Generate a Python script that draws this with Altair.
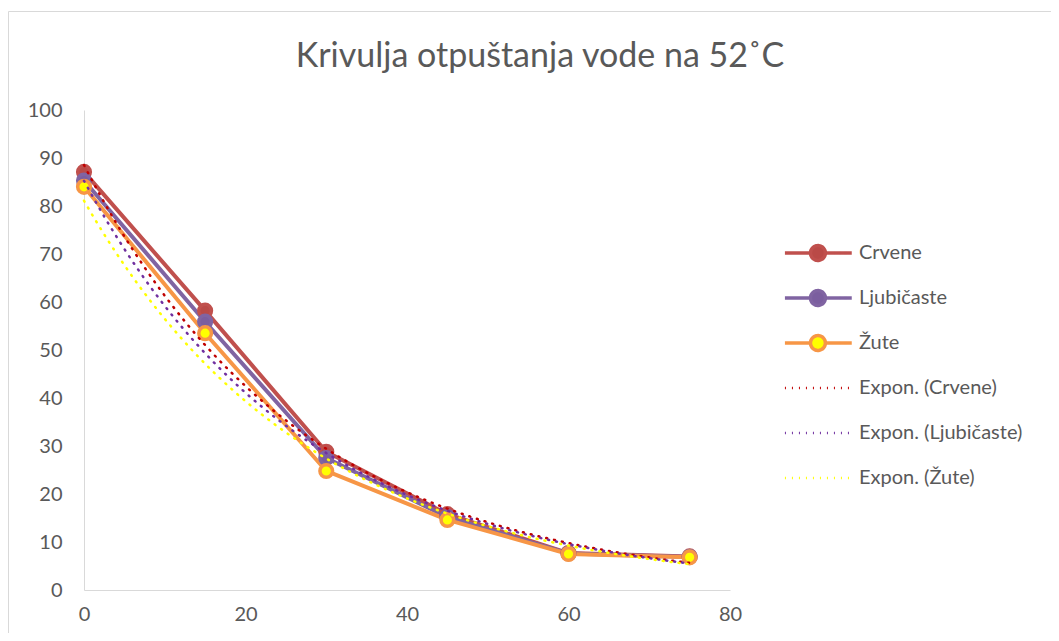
import altair as alt
import pandas as pd

# ---- data ----
minutes = [0, 15, 30, 45, 60, 75]
crvene = [87.1, 58.2, 28.8, 15.8, 7.7, 7.0]
ljubicaste = [85.3, 55.9, 27.5, 15.2, 7.6, 6.9]
zute = [84.0, 53.5, 24.8, 14.6, 7.5, 6.8]

series_names = ["Crvene", "Ljubičaste", "Žute"]
trend_names = ["Expon. (Crvene)", "Expon. (Ljubičaste)", "Expon. (Žute)"]
line_colors = ["#C0504D", "#8064A2", "#F79646"]
marker_fills = ["#BA4A47", "#7B5E9F", "#FFFF00"]
trend_colors = ["#C00000", "#7030A0", "#FFFF00"]
x_ticks = [0, 20, 40, 60, 80]
y_ticks = list(range(0, 101, 10))
title_text = ["Krivulja otpuštanja vode na 52˚C"]

FONT = "Lato"
TEXT_COLOR = "#595959"
AXIS_COLOR = "#D9D9D9"

rows = []
for name, vals in zip(series_names, [crvene, ljubicaste, zute]):
    for xv, yv in zip(minutes, vals):
        rows.append({"series": name, "name": name, "x": xv, "y": yv})
df = pd.DataFrame(rows)

all_names = series_names + trend_names
all_colors = line_colors + trend_colors


def expr_map(keys, vals, default):
    out = default
    for k, v in reversed(list(zip(keys, vals))):
        out = f"datum.value == '{k}' ? {v} : ({out})"
    return out


is_data = "indexof(['" + "','".join(series_names) + "'], datum.value) >= 0"
# legend glyph: line with a marker, drawn to the right of the entry origin
line_dot = ("M-0.55,0L1.0,0M1.9,0L3.5,0M1.9,0A0.45,0.45,0,1,1,1.0,0"
            "A0.45,0.45,0,1,1,1.9,0Z")
line_only = "M-0.55,0L3.5,0"
shape_expr = f"{is_data} ? '{line_dot}' : '{line_only}'"
fill_expr = expr_map(series_names, [f"'{c}'" for c in marker_fills], "'transparent'")
stroke_expr = expr_map(all_names, [f"'{c}'" for c in all_colors], "'#000'")
width_expr = f"{is_data} ? 3.5 : 2.5"
dash_expr = f"{is_data} ? [1, 0] : [1, 6]"

color_scale = alt.Scale(domain=all_names, range=all_colors)
x_scale = alt.Scale(domain=[0, 80], nice=False)
y_scale = alt.Scale(domain=[0, 100], nice=False)

x_axis = alt.Axis(values=x_ticks, title=None, labelPadding=14, labelFlush=False)
y_axis = alt.Axis(values=y_ticks, title=None, labelPadding=22, labelFlush=False)

legend = alt.Legend(
    title=None,
    orient="none",
    legendX=700,
    legendY=126.5,
    padding=0,
    symbolSize=1089,
    symbolType=alt.ExprRef(expr=shape_expr),
    symbolFillColor=alt.ExprRef(expr=fill_expr),
    symbolStrokeColor=alt.ExprRef(expr=stroke_expr),
    symbolStrokeWidth=alt.ExprRef(expr=width_expr),
    symbolDash=alt.ExprRef(expr=dash_expr),
    symbolOpacity=1,
    clipHeight=33,
    labelFont=FONT,
    labelFontSize=20,
    labelColor=TEXT_COLOR,
    labelOffset=55,
    labelLimit=400,
    rowPadding=12,
)

base = alt.Chart(df)

lines = base.mark_line(strokeWidth=4, strokeJoin="round").encode(
    x=alt.X("x:Q", scale=x_scale, axis=x_axis),
    y=alt.Y("y:Q", scale=y_scale, axis=y_axis),
    color=alt.Color("name:N", scale=color_scale, legend=legend),
    detail="series:N",
)

points = base.mark_point(filled=False, size=160, strokeWidth=3.5, opacity=1).encode(
    x=alt.X("x:Q", scale=x_scale),
    y=alt.Y("y:Q", scale=y_scale),
    stroke=alt.Stroke("name:N", scale=color_scale, legend=None),
    fill=alt.Fill("name:N", scale=alt.Scale(domain=series_names, range=marker_fills), legend=None),
)

trends = (
    base.transform_calculate(
        ly="log(datum.y)", xly="datum.x * log(datum.y)", xx="datum.x * datum.x"
    )
    .transform_aggregate(
        mx="mean(x)", mly="mean(ly)", mxly="mean(xly)", mxx="mean(xx)", groupby=["series"]
    )
    .transform_calculate(
        b="(datum.mxly - datum.mx * datum.mly) / (datum.mxx - datum.mx * datum.mx)"
    )
    .transform_calculate(
        a="datum.mly - datum.b * datum.mx",
        t="sequence(0, 75.5, 0.5)",
    )
    .transform_flatten(["t"])
    .transform_calculate(
        ty="exp(datum.a + datum.b * datum.t)",
        name="'Expon. (' + datum.series + ')'",
    )
    .mark_line(strokeWidth=2.5, strokeDash=[1, 7], strokeCap="round")
    .encode(
        x=alt.X("t:Q", scale=x_scale),
        y=alt.Y("ty:Q", scale=y_scale),
        color=alt.Color("name:N", scale=color_scale, legend=legend),
        order=alt.Order("t:Q"),
    )
)

frame = alt.Chart(alt.Data(values=[{"f": 1}])).mark_rect(
    fillOpacity=0, stroke=AXIS_COLOR, strokeWidth=1
).encode(
    x=alt.value(-75.5),
    y=alt.value(-98.5),
    x2=alt.value(1000),
    y2=alt.value(600),
)

title = alt.Chart(alt.Data(values=[{"t": t} for t in title_text])).mark_text(
    font=FONT, fontSize=34, color=TEXT_COLOR, align="center", baseline="alphabetic"
).encode(
    text="t:N",
    x=alt.value(456),
    y=alt.value(-43),
)

chart = (
    alt.layer(frame, title, lines, points, trends)
    .properties(
        width=646,
        height=480,
        autosize=alt.AutoSizeParams(type="none"),
        padding={"left": 76, "top": 102, "right": 321, "bottom": 43},
    )
    .configure_view(stroke=None)
    .configure_axis(
        grid=False,
        ticks=False,
        domainColor=AXIS_COLOR,
        domainWidth=1,
        labelFont=FONT,
        labelFontSize=20,
        labelColor=TEXT_COLOR,
    )
)

chart.save("out.html", embed_options={"renderer": "svg", "actions": False})
